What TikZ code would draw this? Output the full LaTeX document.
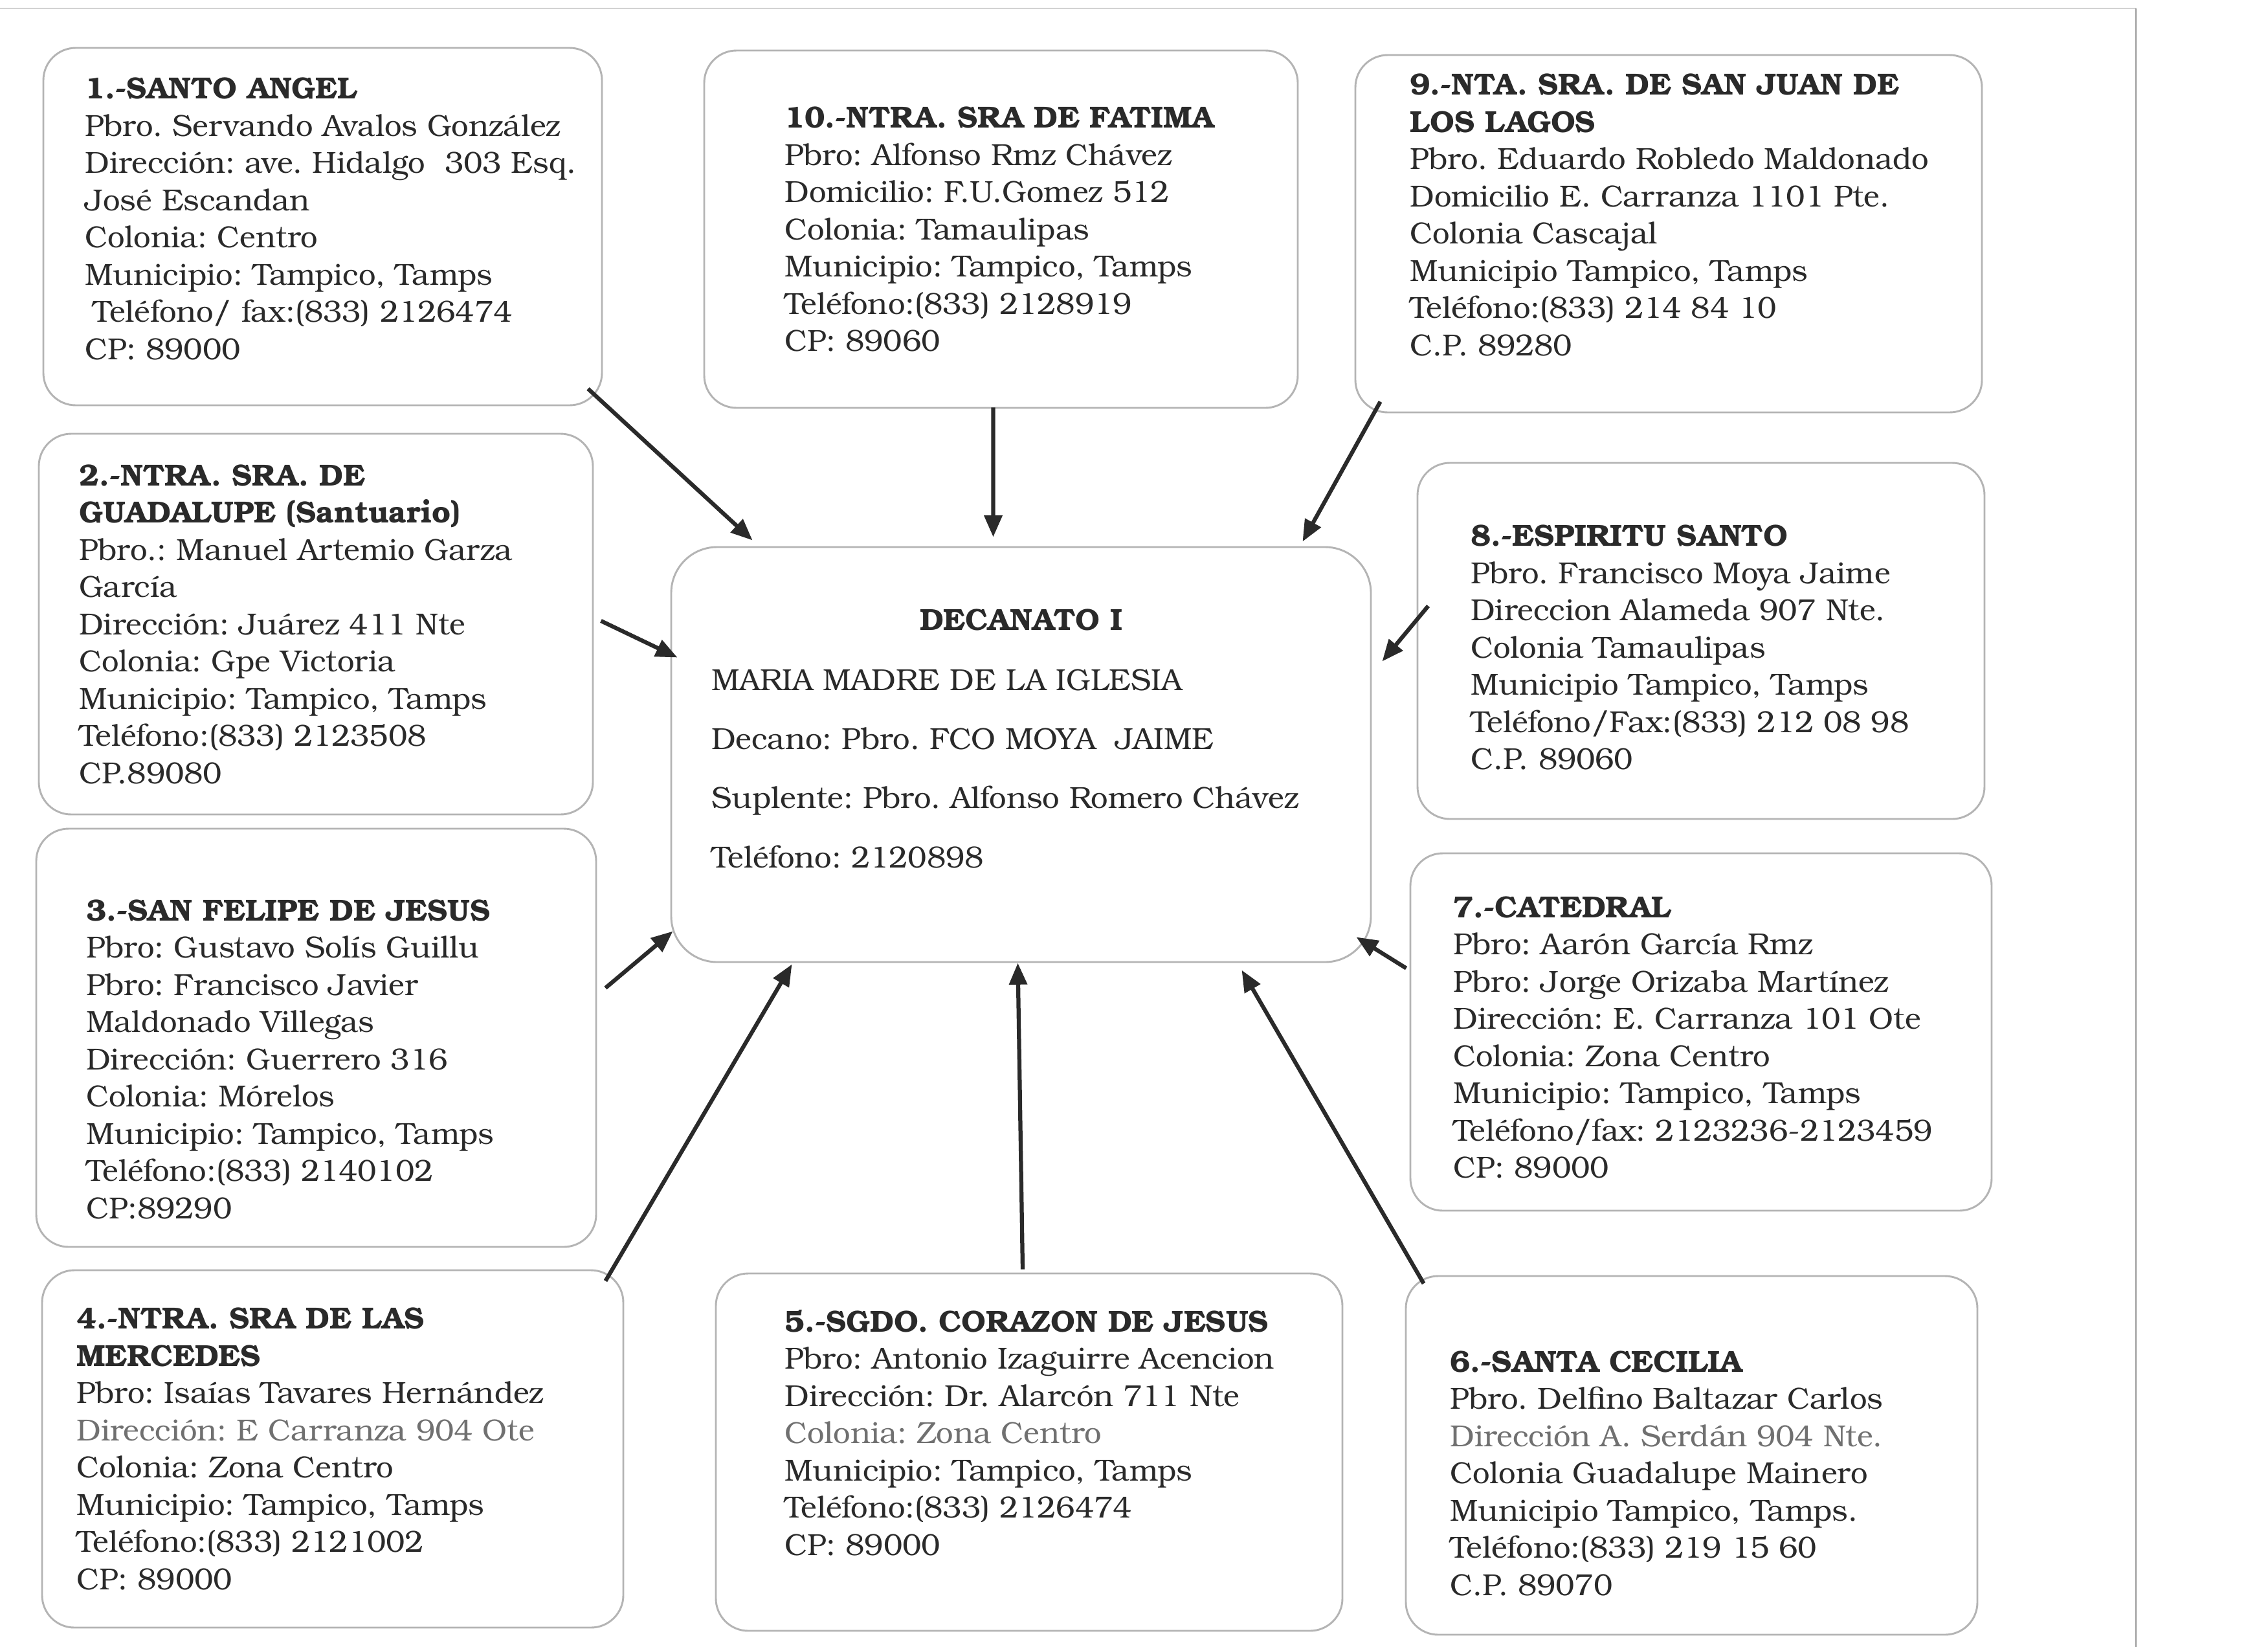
\documentclass[tikz,border=0pt]{standalone}
\usepackage{fontspec}
\setmainfont{TeX Gyre Bonum}
\usetikzlibrary{arrows.meta,fit}
\definecolor{tinta}{HTML}{2A2A2A}
\definecolor{gris}{HTML}{707070}
\definecolor{borde}{HTML}{B4B4B4}
\frenchspacing
\tikzset{
caja/.style={draw=borde, line width=0.7pt, rounded corners=12pt, inner sep=0pt},
decbox/.style={caja, rounded corners=17pt},
texto/.style={align=left, anchor=west, text=tinta, inner sep=0pt, font=\fontsize{11.3}{13.8}\selectfont},
flecha/.style={-{Triangle[length=8pt,width=6.5pt]}, line width=1.5pt, draw=tinta}
}
\begin{document}
\begin{tikzpicture}[x=24pt,y=-24pt]
\useasboundingbox[fill=white] (0,0) rectangle (35.04,25.44);
\draw[gray!35, line width=0.4pt] (0,0.13) -- (33.00,0.13);
\draw[gray!80, line width=0.6pt] (33.00,0.13) -- (33.00,25.44);

\node[caja, fit={(0.67,0.74) (9.30,6.26)}] (b1) {};
\node[caja, fit={(10.88,0.78) (20.05,6.30)}] (b10) {};
\node[caja, fit={(20.94,0.85) (30.62,6.37)}] (b9) {};
\node[caja, fit={(0.60,6.70) (9.16,12.58)}] (b2) {};
\node[decbox, fit={(10.37,8.45) (21.18,14.86)}] (dec) {};
\node[caja, fit={(21.90,7.15) (30.66,12.65)}] (b8) {};
\node[caja, fit={(0.56,12.80) (9.21,19.26)}] (b3) {};
\node[caja, fit={(21.79,13.18) (30.77,18.70)}] (b7) {};
\node[caja, fit={(0.65,19.62) (9.63,25.14)}] (b4) {};
\node[caja, fit={(11.06,19.67) (20.74,25.19)}] (b5) {};
\node[caja, fit={(21.72,19.71) (30.55,25.25)}] (b6) {};

\node[texto] (t1) at ([xshift=15.6pt, yshift=2.9pt]b1.west) {\textbf{1.-SANTO ANGEL}\\
Pbro. Servando Avalos González\\
Dirección: ave. Hidalgo\ \ 303 Esq.\\
José Escandan\\
Colonia: Centro\\
Municipio: Tampico, Tamps\\
\hspace{3pt}Teléfono/ fax:(833) 2126474\\
CP: 89000};

\node[texto] (t10) at ([xshift=30pt]b10.west) {\textbf{10.-NTRA. SRA DE FATIMA}\\
Pbro: Alfonso Rmz Chávez\\
Domicilio: F.U.Gomez 512\\
Colonia: Tamaulipas\\
Municipio: Tampico, Tamps\\
Teléfono:(833) 2128919\\
CP: 89060};

\node[texto] (t9) at ([xshift=20.4pt, yshift=7pt]b9.west) {\textbf{9.-NTA. SRA. DE SAN JUAN DE}\\
\textbf{LOS LAGOS}\\
Pbro. Eduardo Robledo Maldonado\\
Domicilio E. Carranza 1101 Pte.\\
Colonia Cascajal\\
Municipio Tampico, Tamps\\
Teléfono:(833) 214 84 10\\
C.P. 89280};

\node[texto] (t2) at ([xshift=15.1pt]b2.west) {\textbf{2.-NTRA. SRA. DE}\\
\textbf{GUADALUPE (Santuario)}\\
Pbro.: Manuel Artemio Garza\\
García\\
Dirección: Juárez 411 Nte\\
Colonia: Gpe Victoria\\
Municipio: Tampico, Tamps\\
Teléfono:(833) 2123508\\
CP.89080};

\node[text=tinta, font=\fontsize{11.3}{13.8}\selectfont\bfseries] (dtit) at ([yshift=-27.4pt]dec.north) {DECANATO I};
\node[texto, font=\fontsize{11.3}{21.9}\selectfont] (dtxt) at ([xshift=15.1pt, yshift=-5.2pt]dec.west) {MARIA MADRE DE LA IGLESIA\\
Decano: Pbro. FCO MOYA\ \ JAIME\\
Suplente: Pbro. Alfonso Romero Chávez\\
Teléfono: 2120898};

\node[texto] (t8) at ([xshift=19.9pt, yshift=-2.4pt]b8.west) {\textbf{8.-ESPIRITU SANTO}\\
Pbro. Francisco Moya Jaime\\
Direccion Alameda 907 Nte.\\
Colonia Tamaulipas\\
Municipio Tampico, Tamps\\
Teléfono/Fax:(833) 212 08 98\\
C.P. 89060};

\node[texto] (t3) at ([xshift=18.7pt, yshift=-8pt]b3.west) {\textbf{3.-SAN FELIPE DE JESUS}\\
Pbro: Gustavo Solís Guillu\\
Pbro: Francisco Javier\\
Maldonado Villegas\\
Dirección: Guerrero 316\\
Colonia: Mórelos\\
Municipio: Tampico, Tamps\\
Teléfono:(833) 2140102\\
CP:89290};

\node[texto] (t7) at ([xshift=16.1pt, yshift=-2pt]b7.west) {\textbf{7.-CATEDRAL}\\
Pbro: Aarón García Rmz\\
Pbro: Jorge Orizaba Martínez\\
Dirección: E. Carranza 101 Ote\\
Colonia: Zona Centro\\
Municipio: Tampico, Tamps\\
Teléfono/fax: 2123236-2123459\\
CP: 89000};

\node[texto] (t4) at ([xshift=13pt]b4.west) {\textbf{4.-NTRA. SRA DE LAS}\\
\textbf{MERCEDES}\\
Pbro: Isaías Tavares Hernández\\
{\color{gris}Dirección: E Carranza 904 Ote}\\
Colonia: Zona Centro\\
Municipio: Tampico, Tamps\\
Teléfono:(833) 2121002\\
CP: 89000};

\node[texto] (t5) at ([xshift=25.7pt, yshift=7.2pt]b5.west) {\textbf{5.-SGDO. CORAZON DE JESUS}\\
Pbro: Antonio Izaguirre Acencion\\
Dirección: Dr. Alarcón 711 Nte\\
{\color{gris}Colonia: Zona Centro}\\
Municipio: Tampico, Tamps\\
Teléfono:(833) 2126474\\
CP: 89000};

\node[texto] (t6) at ([xshift=16.6pt, yshift=-6.7pt]b6.west) {\textbf{6.-SANTA CECILIA}\\
Pbro. Delfino Baltazar Carlos\\
{\color{gris}Dirección A. Serdán 904 Nte.}\\
Colonia Guadalupe Mainero\\
Municipio Tampico, Tamps.\\
Teléfono:(833) 219 15 60\\
C.P. 89070};

\draw[flecha] ([shift={(-0.23,-0.27)}]b1.south east) -- ([shift={(1.27,-0.09)}]dec.north west);
\draw[flecha] ([shift={(-0.12,-0.02)}]b10.south) -- ([shift={(-0.43,-0.14)}]dec.north);
\draw[flecha] ([shift={(0.40,-0.18)}]b9.south west) -- ([shift={(-1.07,-0.07)}]dec.north east);
\draw[flecha] ([shift={(0.11,-0.05)}]b2.east) -- ([shift={(0.11,1.72)}]dec.north west);
\draw[flecha] ([shift={(0.18,-0.54)}]b8.west) -- ([shift={(0.16,1.78)}]dec.north east);
\draw[flecha] ([shift={(0.13,-0.77)}]b3.east) -- ([shift={(0.04,-0.49)}]dec.south west);
\draw[flecha] ([shift={(-0.05,1.79)}]b7.north west) -- ([shift={(-0.24,-0.40)}]dec.south east);
\draw[flecha] ([shift={(-0.29,0.18)}]b4.north east) -- ([shift={(1.88,0.02)}]dec.south west);
\draw[flecha] ([shift={(-0.10,-0.05)}]b5.north) -- ([shift={(-0.05,0)}]dec.south);
\draw[flecha] ([shift={(0.29,0.13)}]b6.north west) -- ([shift={(-2.01,0.11)}]dec.south east);
\end{tikzpicture}
\end{document}
